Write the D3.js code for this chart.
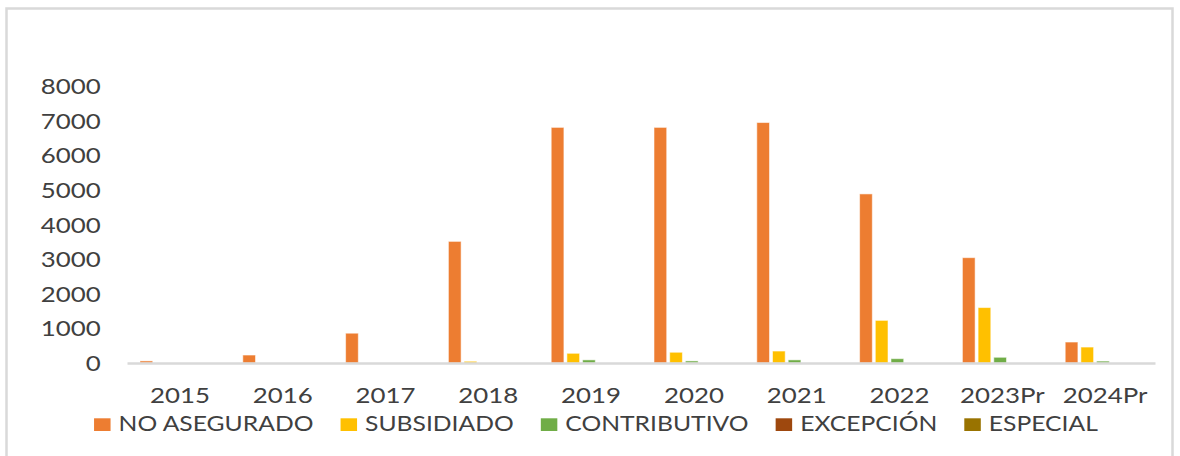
<!DOCTYPE html>
<html><head><meta charset="utf-8">
<script src="https://cdn.jsdelivr.net/npm/d3@7"></script>
<style>
body{margin:0;background:#fff;}
svg{display:block;}
text{font-family:Lato,'Noto Sans',sans-serif;fill:#404040;}
</style>
</head><body>
<svg id="c" width="1180" height="456"></svg>
<script>
// ---- data ----
const years = ["2015","2016","2017","2018","2019","2020","2021","2022","2023Pr","2024Pr"];
const seriesNames = ["NO ASEGURADO","SUBSIDIADO","CONTRIBUTIVO","EXCEPCIÓN","ESPECIAL"];
const noAsegurado  = [60, 230, 860, 3510, 6800, 6800, 6940, 4880, 3040, 605];
const subsidiado   = [0, 0, 0, 50, 280, 310, 345, 1230, 1600, 460];
const contributivo = [0, 0, 0, 0, 90, 60, 90, 125, 165, 55];
const excepcion    = [0, 0, 0, 0, 0, 0, 0, 0, 0, 0];
const especial     = [0, 0, 0, 0, 0, 0, 0, 0, 0, 0];
const yTicks = [0, 1000, 2000, 3000, 4000, 5000, 6000, 7000, 8000];
const colors = ["#ED7D31", "#FFC000", "#70AD47", "#9E480E", "#997300"];

const seriesValues = [noAsegurado, subsidiado, contributivo, excepcion, especial];
const table = years.map((y, i) => {
  const row = {year: y};
  seriesNames.forEach((s, k) => row[s] = seriesValues[k][i]);
  return row;
});

const svg = d3.select("#c");
const FS = 21;

// frame
svg.append("rect").attr("x", 0).attr("y", 0).attr("width", 1180).attr("height", 456).attr("fill", "#fff");
svg.append("rect").attr("x", 6.5).attr("y", 8.5).attr("width", 1166).attr("height", 460)
  .attr("fill", "none").attr("stroke", "#d9d9d9").attr("stroke-width", 2.5);

// horizontal stretch factors for text (measured)
function measure(str) {
  const t = svg.append("text").attr("font-size", FS).text(str);
  const w = t.node().getComputedTextLength();
  t.remove();
  return w;
}
const sx = 60 / measure("8000");
const sxL = 195 / measure("NO ASEGURADO");

const x0 = d3.scaleBand().domain(years).range([127, 1155]).padding(0);
const x1 = d3.scaleBand().domain(seriesNames).range([13, 88.5]).paddingInner(0.19).paddingOuter(0);
const y = d3.scaleLinear().domain([0, 8000]).range([363, 85.8]);

// bars
const groups = svg.append("g").selectAll("g").data(table).join("g")
  .attr("transform", d => `translate(${x0(d.year)},0)`);
groups.selectAll("rect")
  .data(d => seriesNames.map((s, k) => ({s, k, v: d[s]})).filter(e => e.v > 0))
  .join("rect")
  .attr("x", e => x1(e.s))
  .attr("width", x1.bandwidth())
  .attr("y", e => y(e.v))
  .attr("height", e => y(0) - y(e.v))
  .attr("fill", e => colors[e.k])
  .attr("stroke", "rgba(255,255,255,0.55)")
  .attr("stroke-width", 1);

// y axis (labels only)
const ya = svg.append("g").attr("transform", "translate(127,0)")
  .call(d3.axisLeft(y).tickValues(yTicks).tickSize(0).tickPadding(0).tickFormat(d3.format("d")));
ya.select(".domain").remove();
ya.selectAll("text")
  .attr("x", 0).attr("dy", null).attr("y", 0)
  .attr("font-size", FS).attr("font-family", null).attr("fill", null)
  .attr("text-anchor", "end")
  .attr("transform", `translate(-26.3,7.6) scale(${sx},1)`);

// x axis
const xa = svg.append("g").attr("transform", `translate(0,${y(0)})`)
  .call(d3.axisBottom(x0).tickSize(0).tickSizeOuter(0).tickPadding(0));
xa.select(".domain").attr("stroke", "#d9d9d9").attr("stroke-width", 2.6);
xa.selectAll("text")
  .attr("y", 0).attr("dy", null)
  .attr("font-size", FS).attr("font-family", null).attr("fill", null)
  .attr("transform", `translate(1.5,39.7) scale(${sx},1)`);

// legend
const leg = svg.append("g");
const widths = seriesNames.map(s => measure(s) * sxL);
const mW = 16.5, mH = 12.7, gapMT = 8, gapItem = 27;
const total = d3.sum(widths) + seriesNames.length * (mW + gapMT) + gapItem * (seriesNames.length - 1);
let cx = 596 - total / 2;
seriesNames.forEach((s, k) => {
  leg.append("rect").attr("x", cx).attr("y", 418.3).attr("width", mW).attr("height", mH).attr("fill", colors[k]);
  leg.append("text").attr("font-size", FS)
    .attr("transform", `translate(${cx + mW + gapMT},431) scale(${sxL},1)`)
    .text(s);
  cx += mW + gapMT + widths[k] + gapItem;
});
</script>
</body></html>
